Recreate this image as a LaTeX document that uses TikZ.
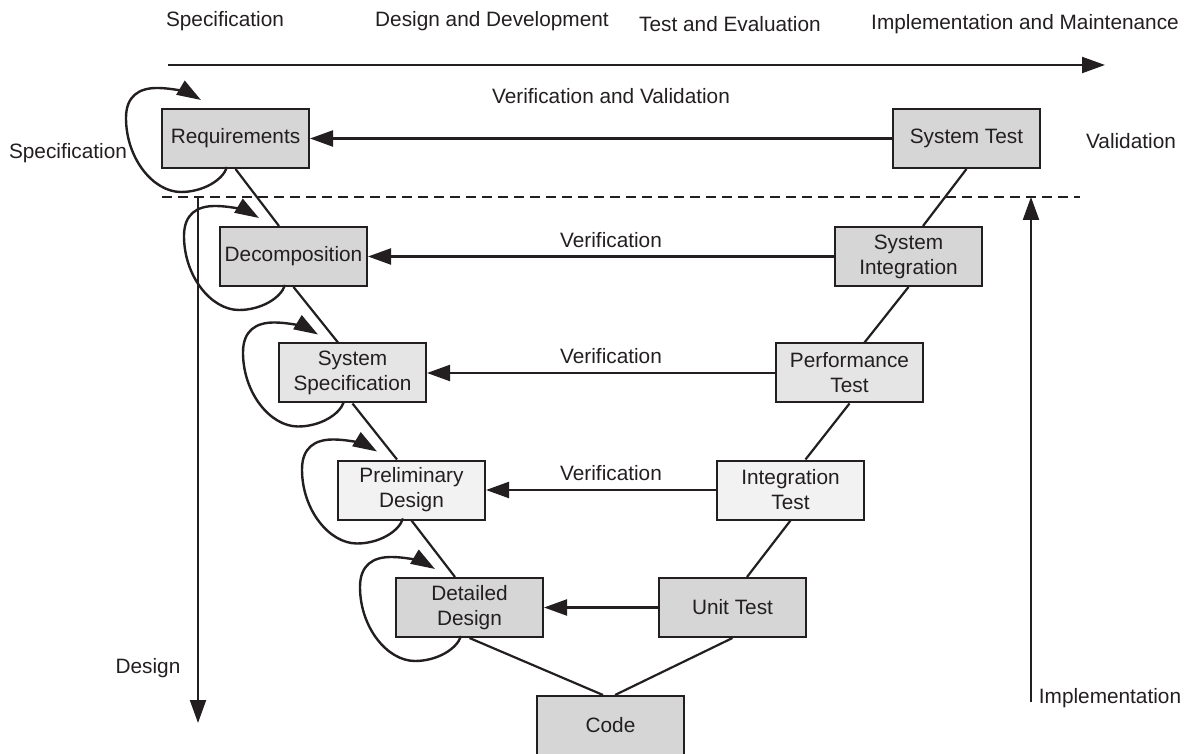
\documentclass[tikz,border=0pt]{standalone}
\usepackage{fontspec}
\setmainfont{Liberation Sans}
\usepackage{tikz}
\usetikzlibrary{arrows.meta}
\definecolor{ink}{HTML}{231F20}

\begin{document}
\begin{tikzpicture}[
        x=0.5pt, y=-0.5pt,
        font=\fontsize{10.4}{12.5}\selectfont,
        every node/.style={text=ink},
        box/.style={draw=ink, fill=black!16, rectangle, line width=1pt, minimum width=73.5pt, minimum height=29.5pt, inner sep=1pt, align=center},
        boxmid/.style={box, fill=black!10},
        boxlight/.style={box, fill=black!5},
        arrow/.style={-{Triangle[length=11.5pt, width=8pt]}, draw=ink, line width=1.1pt},
        link/.style={draw=ink, line width=1.1pt},
        selfloop/.style={-{Triangle[length=12pt, width=8pt]}, draw=ink, line width=1.2pt},
        vlabel/.style={above=4pt, inner sep=0pt, xshift=5pt}
    ]
    \clip (0,0) rectangle (1195,754);

    % Phases along the top
    \node (pspec) at (225,21) {Specification};
    \node (pdev) at (492,21) {Design and Development};
    \node (ptest) at (730,24) {Test and Evaluation};
    \node (pimpl) at (1025,24) {Implementation and Maintenance};
    \coordinate (tl) at (168,65);
    \coordinate (tr) at (1105,65);
    \draw[arrow] (tl) -- (tr);

    % Left leg
    \node[box] (req) at (235.5,138.5) {Requirements};
    \node[box] (dec) at (293.5,256.5) {Decomposition};
    \node[boxmid] (spec) at (352.5,373) {System\\Specification};
    \node[boxlight] (prelim) at (411.5,490) {Preliminary\\Design};
    \node[box] (detail) at (469.5,607.5) {Detailed\\Design};

    % Right leg
    \node[box] (systest) at (966.5,138.5) {System Test};
    \node[box] (sysint) at (908.5,256.5) {System\\Integration};
    \node[boxmid] (perf) at (849.5,373) {Performance\\Test};
    \node[boxlight] (integ) at (790.5,490) {Integration\\Test};
    \node[box] (unit) at (732.5,607.5) {Unit Test};

    \node[box] (code) at (610.5,725.5) {Code};

    % Side labels
    \node (lspec) at (68,153) {Specification};
    \node (lval) at (1131,141) {Validation};
    \node (ldesign) at (148,668) {Design};
    \node (limpl) at (1110,698) {Implementation};

    % The V
    \draw[link] (req.south) -- ([xshift=-7.25pt]dec.north);
    \draw[link] (dec.south) -- ([xshift=-7.25pt]spec.north);
    \draw[link] (spec.south) -- ([xshift=-7.25pt]prelim.north);
    \draw[link] (prelim.south) -- ([xshift=-7.25pt]detail.north);
    \draw[link] (detail.south) -- ([xshift=-3.75pt]code.north);
    \draw[link] (systest.south) -- ([xshift=7.25pt]sysint.north);
    \draw[link] (sysint.south) -- ([xshift=7.5pt]perf.north);
    \draw[link] (perf.south) -- ([xshift=7.5pt]integ.north);
    \draw[link] (integ.south) -- ([xshift=7.25pt]unit.north);
    \draw[link] (unit.south) -- ([xshift=2.25pt]code.north);

    % Verification arrows across
    \draw[arrow] (systest.west) -- node[vlabel, above=13pt] {Verification and Validation} (req.east);
    \draw[arrow] (sysint.west) -- node[vlabel] {Verification} (dec.east);
    \draw[arrow] (perf.west) -- node[vlabel] {Verification} (spec.east);
    \draw[arrow] (integ.west) -- node[vlabel] {Verification} (prelim.east);
    \draw[arrow] (unit.west) -- (detail.east);

    % Dashed split and the two side arrows
    \coordinate (dl) at (162,197);
    \coordinate (dr) at (1080,197);
    \draw[link, dash pattern=on 5pt off 3pt] (dl) -- (dr);
    \coordinate (dtop) at (198,197);
    \coordinate (dbot) at (198,723);
    \draw[arrow] (dtop) -- (dbot);
    \coordinate (ibot) at (1031,702);
    \coordinate (itop) at (1031,197);
    \draw[arrow] (ibot) -- (itop);

    % Iteration loops on the left boxes
    \foreach \b in {req,dec,spec,prelim,detail}
        \draw[selfloop, shift={(\b.north west)}] (66,59)
            .. controls (62,72) and (42,84) .. (20,84)
            .. controls (-8,84) and (-35,50) .. (-35,10)
            .. controls (-35,-12) and (-22,-20) .. (-4,-20)
            .. controls (14,-20) and (30,-14) .. (40,-8);
\end{tikzpicture}
\end{document}
